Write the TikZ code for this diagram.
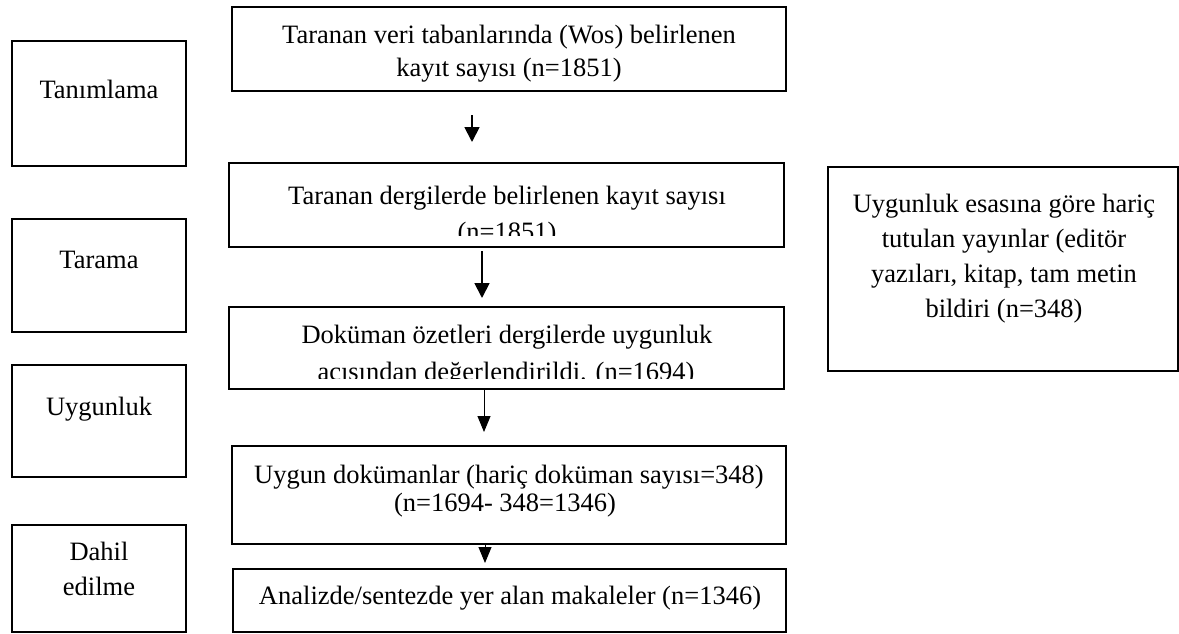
\documentclass[tikz,border=0pt]{standalone}
\usepackage{fontspec}
\setmainfont{Liberation Serif}
\usetikzlibrary{arrows.meta}
\begin{document}
\begin{tikzpicture}[x=1pt,y=-1pt,
  box/.style={draw=black, line width=2pt, inner sep=0pt, outer sep=0pt},
  txt/.style={inner sep=0pt, anchor=base, font=\fontsize{26.5}{30}\selectfont},
  arr/.style={line width=1.8pt, -{Triangle[length=15pt,width=15pt]}},
  arrthin/.style={line width=1pt, -{Triangle[length=16pt,width=13pt]}},
]
\useasboundingbox[fill=white] (0,0) rectangle (1179,633);

% main column boxes
\node[box, minimum width=554pt, minimum height=84pt] (b1) at (509,49) {};
\node[box, minimum width=555pt, minimum height=84pt] (b2) at (506.5,205) {};
\node[box, minimum width=555pt, minimum height=82pt] (b3) at (506.5,348) {};
\node[box, minimum width=554pt, minimum height=98pt] (b4) at (509,495) {};
\node[box, minimum width=553pt, minimum height=63pt] (b5) at (509.5,600.5) {};
% left stage boxes
\node[box, minimum width=174pt, minimum height=125pt] (l1) at (99,103.5) {};
\node[box, minimum width=174pt, minimum height=113pt] (l2) at (99,275.5) {};
\node[box, minimum width=174pt, minimum height=112pt] (l3) at (99,421) {};
\node[box, minimum width=174pt, minimum height=107pt] (l4) at (99,578.5) {};
% right box
\node[box, minimum width=350pt, minimum height=204pt] (r1) at (1003,269) {};

% texts
\node[txt] (t1a) at (509,43) {Taranan veri tabanlarında (Wos) belirlenen};
\node[txt] (t1b) at (509,76) {kayıt sayısı (n=1851)};
\begin{scope}
\clip (229,163) rectangle (784,235);
\node[txt] (t2a) at (507,204) {Taranan dergilerde belirlenen kayıt sayısı};
\node[txt] (t2b) at (507,240) {(n=1851)};
\end{scope}
\begin{scope}
\clip (229,307) rectangle (784,378);
\node[txt] (t3a) at (507,343) {Doküman özetleri dergilerde uygunluk};
\node[txt] (t3b) at (506,380) {acısından değerlendirildi. (n=1694)};
\end{scope}
\node[txt] (t4a) at (509,483) {Uygun dokümanlar (hariç doküman sayısı=348)};
\node[txt] (t4b) at (505,511) {(n=1694- 348=1346)};
\node[txt] (t5a) at (510,604) {Analizde/sentezde yer alan makaleler (n=1346)};

\node[txt] (tl1) at (99,98) {Tanımlama};
\node[txt] (tl2) at (99,268) {Tarama};
\node[txt] (tl3) at (99,415) {Uygunluk};
\node[txt] (tl4a) at (99,560) {Dahil};
\node[txt] (tl4b) at (99,595) {edilme};

\node[txt] (tr1) at (1004,212) {Uygunluk esasına göre hariç};
\node[txt] (tr2) at (1004,247) {tutulan yayınlar (editör};
\node[txt] (tr3) at (1004,282) {yazıları, kitap, tam metin};
\node[txt] (tr4) at (1004,317) {bildiri (n=348)};

% arrows
\draw[arr] ([xshift=-37pt,yshift=-24pt]b1.south) -- ([xshift=-34.5pt,yshift=21pt]b2.north);
\draw[arr] ([xshift=-24.5pt,yshift=-4pt]b2.south) -- ([xshift=-24.5pt,yshift=9pt]b3.north);
\draw[arrthin] ([xshift=-22.5pt]b3.south) -- ([xshift=-25pt,yshift=14pt]b4.north);
\draw[arrthin] ([xshift=-24pt]b4.south) -- ([xshift=-24.5pt,yshift=6pt]b5.north);
\end{tikzpicture}
\end{document}
